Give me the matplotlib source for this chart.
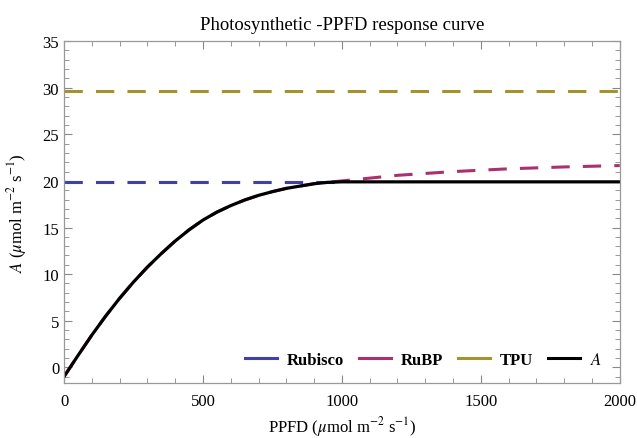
import matplotlib

matplotlib.use("Agg")
import matplotlib.pyplot as plt
from matplotlib.ticker import MultipleLocator

# values
ppfd = [0, 50, 100, 150, 200, 250, 300, 350, 400, 450, 500, 550, 600, 650,
        700, 750, 800, 850, 900, 950, 1000, 1100, 1200, 1400, 1600, 1800, 2000]
rubp = [-1.0, 1.25, 3.45, 5.5, 7.4, 9.15, 10.75, 12.2, 13.55, 14.75, 15.8,
        16.65, 17.35, 17.95, 18.45, 18.85, 19.2, 19.45, 19.7, 19.85, 20.0,
        20.3, 20.6, 21.0, 21.3, 21.5, 21.65]
rubisco_level = 19.9
tpu_level = 29.7
rubisco_end = 1000

rubisco_x = [p for p in ppfd if p <= rubisco_end]
rubisco = [rubisco_level for _ in rubisco_x]
tpu = [tpu_level for _ in ppfd]
# net assimilation is the limiting (minimum) rate
a_net = [min(r, rubisco_level, tpu_level) for r in rubp]

plt.rcParams["font.family"] = ["Liberation Serif", "DejaVu Serif"]
plt.rcParams["mathtext.fontset"] = "stix"

C_RUBISCO = "#3f3fae"
C_RUBP = "#aa306e"
C_TPU = "#a3932f"

fig = plt.figure(figsize=(6.37, 4.39), dpi=100)
ax = fig.add_axes([0.1005, 0.125, 0.8725, 0.779])

dash = (0, (6, 4.3))
ax.plot(ppfd, tpu, color=C_TPU, lw=2.2, ls=dash)
ax.plot(ppfd, rubp, color=C_RUBP, lw=2.2, ls=dash)
ax.plot(rubisco_x, rubisco, color=C_RUBISCO, lw=2.2, ls=dash)
ax.plot(ppfd, a_net, color="black", lw=2.3)

# legend uses solid handles, like the reference
for lab, col in [("Rubisco", C_RUBISCO), ("RuBP", C_RUBP), ("TPU", C_TPU)]:
    ax.plot([], [], color=col, lw=2.2, label=lab)
ax.plot([], [], color="black", lw=2.2, label="$\\mathit{A}$")
leg = ax.legend(loc="lower right", ncol=4, frameon=False,
                prop={"weight": "bold", "size": 12}, handlelength=1.9,
                handletextpad=0.6, columnspacing=0.9,
                bbox_to_anchor=(0.995, 0.0))

ax.set_xlim(0, 2000)
ax.set_ylim(-1.7, 35)
ax.xaxis.set_major_locator(MultipleLocator(500))
ax.xaxis.set_minor_locator(MultipleLocator(100))
ax.yaxis.set_major_locator(MultipleLocator(5))
ax.yaxis.set_minor_locator(MultipleLocator(1))
ax.tick_params(which="both", direction="in", top=True, right=True,
               color="#888888", labelsize=12)
ax.tick_params(which="major", length=6, width=0.8)
ax.tick_params(which="minor", length=3.5, width=0.6)
ax.tick_params(axis="x", pad=7)
for s in ax.spines.values():
    s.set_color("#999999")
    s.set_linewidth(0.9)

ax.set_title("Photosynthetic -PPFD response curve", fontsize=13.5, pad=9)
ax.set_xlabel("PPFD ($\\mu$mol m$^{-2}$ s$^{-1}$)", fontsize=12, labelpad=4)
ax.set_ylabel("$A$ ($\\mu$mol m$^{-2}$ s$^{-1}$)", fontsize=12, labelpad=10)

fig.savefig("out.png", dpi=100)
